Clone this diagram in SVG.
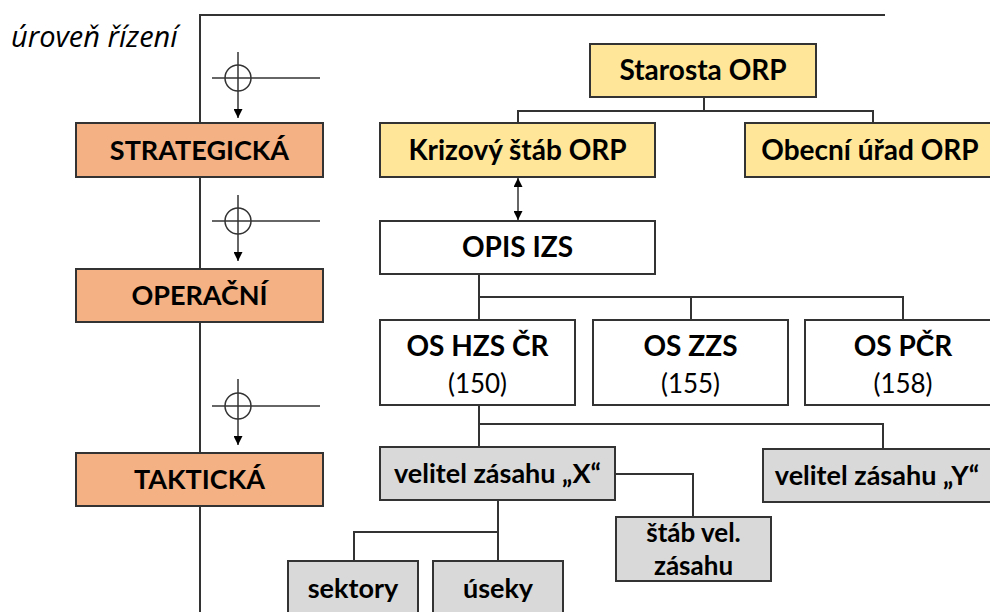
<svg xmlns="http://www.w3.org/2000/svg" width="990" height="612" viewBox="0 0 990 612">
<defs>
<marker id="ah" viewBox="0 0 10 10" refX="10" refY="5" markerWidth="9" markerHeight="9" markerUnits="userSpaceOnUse" orient="auto-start-reverse">
<path d="M0,0 L10,5 L0,10 z" fill="#000"/>
</marker>
<style>
.box{stroke:#333;stroke-width:2}
.or{fill:#F4B183}
.ye{fill:#FFE699}
.wh{fill:#fff}
.gr{fill:#D9D9D9}
.t{font-family:Lato,"Liberation Sans",sans-serif;font-weight:bold;fill:#000;text-anchor:middle}
.n{font-family:Lato,"Liberation Sans",sans-serif;fill:#000;text-anchor:middle}
.ln{stroke:#333;stroke-width:2;fill:none}
.thin{stroke:#333;stroke-width:1.5;fill:none}
</style>
</defs>
<rect width="990" height="612" fill="#fff"/>
<g id="frame">
<path class="ln" d="M885,15 H200 V612"/>
<text x="11" y="47" font-family="'Open Sans',Lato,sans-serif" font-style="italic" font-size="29" fill="#000">úroveň řízení</text>
</g>
<g id="symbols">
<circle cx="238" cy="78" r="13" class="thin"/>
<line x1="212" y1="78" x2="320" y2="78" class="thin"/>
<line x1="238" y1="52" x2="238" y2="118" class="thin" marker-end="url(#ah)"/>
<circle cx="238" cy="221" r="13" class="thin"/>
<line x1="212" y1="221" x2="320" y2="221" class="thin"/>
<line x1="238" y1="195" x2="238" y2="261" class="thin" marker-end="url(#ah)"/>
<circle cx="238" cy="406" r="13" class="thin"/>
<line x1="212" y1="406" x2="320" y2="406" class="thin"/>
<line x1="238" y1="379" x2="238" y2="445" class="thin" marker-end="url(#ah)"/>
</g>
<g id="connectors">
<path class="ln" d="M704,97 V111 M518,123 V111 H873 V123"/>
<line x1="518" y1="178" x2="518" y2="220" class="thin" marker-start="url(#ah)" marker-end="url(#ah)"/>
<path class="ln" d="M479,274 V297 M479,320 V297 H903 V320 M691,297 V320"/>
<path class="ln" d="M479,405 V424 M479,447 V424 H883 V449"/>
<path class="ln" d="M615,474 H693 V517"/>
<path class="ln" d="M498,500 V561 M498,532 H354 V561"/>
</g>
<g id="lvl-strategicka"><rect class="box or" x="76" y="123" width="247" height="54"/><text class="t" x="199.5" y="160" font-size="27">STRATEGICKÁ</text></g>
<g id="lvl-operacni"><rect class="box or" x="76" y="269" width="247" height="53"/><text class="t" x="199.5" y="305" font-size="27">OPERAČNÍ</text></g>
<g id="lvl-takticka"><rect class="box or" x="76" y="453" width="247" height="53"/><text class="t" x="199.5" y="489" font-size="27">TAKTICKÁ</text></g>
<g id="starosta"><rect class="box ye" x="590" y="44" width="226" height="53"/><text class="t" x="703" y="80" font-size="28">Starosta ORP</text></g>
<g id="krizovy"><rect class="box ye" x="380" y="123" width="275" height="54"/><text class="t" x="517.5" y="160" font-size="28">Krizový štáb ORP</text></g>
<g id="obecni"><rect class="box ye" x="745" y="123" width="250" height="54"/><text class="t" x="870" y="160" font-size="28">Obecní úřad ORP</text></g>
<g id="opis"><rect class="box wh" x="380" y="221" width="275" height="53"/><text class="t" x="517.5" y="257" font-size="28">OPIS IZS</text></g>
<g id="os-hzs"><rect class="box wh" x="380" y="320" width="195" height="85"/><text class="t" x="477.5" y="356" font-size="28">OS HZS ČR</text><text class="n" x="477.5" y="393" font-size="26">(150)</text></g>
<g id="os-zzs"><rect class="box wh" x="593" y="320" width="195" height="85"/><text class="t" x="690.5" y="356" font-size="28">OS ZZS</text><text class="n" x="690.5" y="393" font-size="26">(155)</text></g>
<g id="os-pcr"><rect class="box wh" x="805" y="320" width="195" height="85"/><text class="t" x="903" y="356" font-size="28">OS PČR</text><text class="n" x="903" y="393" font-size="26">(158)</text></g>
<g id="velitel-x"><rect class="box gr" x="380" y="447" width="235" height="53"/><text class="t" x="497.5" y="483" font-size="27">velitel zásahu „X“</text></g>
<g id="velitel-y"><rect class="box gr" x="763" y="449" width="235" height="53"/><text class="t" x="877" y="485" font-size="27">velitel zásahu „Y“</text></g>
<g id="stab"><rect class="box gr" x="616" y="517" width="155" height="64"/><text class="t" x="693.5" y="542" font-size="26">štáb vel.</text><text class="t" x="693.5" y="575" font-size="26">zásahu</text></g>
<g id="sektory"><rect class="box gr" x="288" y="561" width="130" height="60"/><text class="t" x="353" y="598" font-size="27">sektory</text></g>
<g id="useky"><rect class="box gr" x="433" y="561" width="130" height="60"/><text class="t" x="498" y="598" font-size="27">úseky</text></g>
</svg>
